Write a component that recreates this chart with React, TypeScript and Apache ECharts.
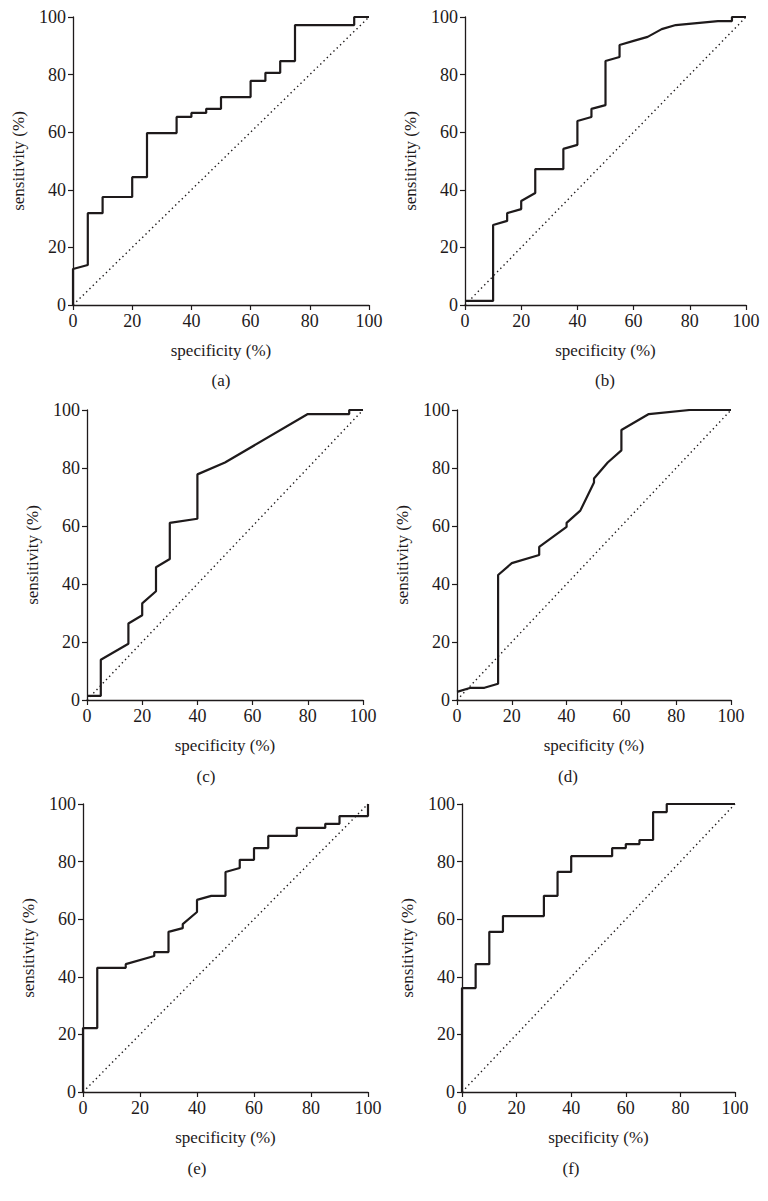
import React, { useEffect, useRef } from "react";
import * as echarts from "echarts";

// ---- data ----
const tickValues = [0, 20, 40, 60, 80, 100];
const panelLabels = ["(a)", "(b)", "(c)", "(d)", "(e)", "(f)"];
const xTitle = "specificity (%)";
const yTitle = "sensitivity (%)";

const aSpec = [0, 0, 5, 5, 10, 10, 20, 20, 25, 25, 35, 35, 40, 40, 45, 45, 50, 50, 60, 60, 65, 65, 70, 70, 75, 75, 95, 95, 100];
const aSens = [0, 12.5, 13.9, 31.9, 31.9, 37.5, 37.5, 44.4, 44.4, 59.7, 59.7, 65.3, 65.3, 66.7, 66.7, 68.1, 68.1, 72.2, 72.2, 77.8, 77.8, 80.6, 80.6, 84.7, 84.7, 97.2, 97.2, 100, 100];

const bSpec = [0, 10, 10, 15, 15, 20, 20, 25, 25, 35, 35, 40, 40, 45, 45, 50, 50, 55, 55, 60, 65, 70, 75, 90, 95, 95, 100];
const bSens = [1.4, 1.4, 27.8, 29.2, 31.9, 33.3, 36.1, 38.9, 47.2, 47.2, 54.2, 55.6, 63.9, 65.3, 68.1, 69.4, 84.7, 86.1, 90.3, 91.7, 93.1, 95.8, 97.2, 98.6, 98.6, 100, 100];

const cSpec = [0, 5, 5, 15, 15, 20, 20, 25, 25, 30, 30, 40, 40, 50, 80, 95, 95, 100];
const cSens = [1.4, 1.4, 13.9, 19.4, 26.4, 29.2, 33.3, 37.5, 45.8, 48.6, 61.1, 62.5, 77.8, 81.9, 98.6, 98.6, 100, 100];

const dSpec = [0, 5, 10, 15, 15, 20, 30, 30, 40, 40, 45, 50, 50, 55, 60, 60, 70, 85, 100];
const dSens = [2.8, 4.2, 4.2, 5.6, 43.1, 47.2, 50, 52.8, 59.7, 61.1, 65.3, 75, 76.4, 81.9, 86.1, 93.1, 98.6, 100, 100];

const eSpec = [0, 0, 5, 5, 15, 15, 25, 25, 30, 30, 35, 35, 40, 40, 45, 50, 50, 55, 55, 60, 60, 65, 65, 75, 75, 85, 85, 90, 90, 100, 100];
const eSens = [0, 22.2, 22.2, 43.1, 43.1, 44.4, 47.2, 48.6, 48.6, 55.6, 56.9, 58.3, 62.5, 66.7, 68.1, 68.1, 76.4, 77.8, 80.6, 80.6, 84.7, 84.7, 88.9, 88.9, 91.7, 91.7, 93.1, 93.1, 95.8, 95.8, 100];

const fSpec = [0, 0, 5, 5, 10, 10, 15, 15, 30, 30, 35, 35, 40, 40, 55, 55, 60, 60, 65, 65, 70, 70, 75, 75, 100];
const fSens = [0, 36.1, 36.1, 44.4, 44.4, 55.6, 55.6, 61.1, 61.1, 68.1, 68.1, 76.4, 76.4, 81.9, 81.9, 84.7, 84.7, 86.1, 86.1, 87.5, 87.5, 97.2, 97.2, 100, 100];

const diagSpec = [0, 100];
const diagSens = [0, 100];

const curves = [
  [aSpec, aSens],
  [bSpec, bSens],
  [cSpec, cSens],
  [dSpec, dSens],
  [eSpec, eSens],
  [fSpec, fSens],
];

// ---- layout ----
const grids = [
  { left: 73, top: 17, width: 296, height: 288 },
  { left: 465, top: 17, width: 281, height: 288 },
  { left: 87, top: 410, width: 276, height: 290 },
  { left: 457, top: 410, width: 274, height: 290 },
  { left: 83, top: 804, width: 285, height: 288 },
  { left: 462, top: 804, width: 273, height: 288 },
];
const labelPos = [
  [221, 380],
  [605, 380],
  [206, 776],
  [568, 776],
  [197, 1168],
  [571, 1168],
];

const INK = "#1e1a1b";
const FONT = "Liberation Serif";

const zip = (xs: number[], ys: number[]) => xs.map((x, i) => [x, ys[i]]);

export default function App() {
  const ref = useRef<HTMLDivElement>(null);
  useEffect(() => {
    if (!ref.current) return;
    const chart = echarts.init(ref.current, undefined, { renderer: "svg" });
    const xAxis: any[] = [];
    const yAxis: any[] = [];
    const series: any[] = [];
    grids.forEach((g, i) => {
      const common = {
        type: "value",
        gridIndex: i,
        min: tickValues[0],
        max: tickValues[tickValues.length - 1],
        interval: 20,
        splitLine: { show: false },
        axisLine: { show: true, lineStyle: { color: INK, width: 1.3 } },
        axisTick: { show: true, inside: false, length: 5, lineStyle: { color: INK, width: 1.2 } },
        nameLocation: "middle",
        nameTextStyle: { color: INK, fontFamily: FONT, fontSize: 17 },
      };
      xAxis.push({
        ...common,
        name: xTitle,
        nameGap: 37,
        axisLabel: { color: INK, fontFamily: FONT, fontSize: 18, margin: 7 },
      });
      yAxis.push({
        ...common,
        name: yTitle,
        nameGap: 46,
        axisLabel: { color: INK, fontFamily: FONT, fontSize: 18, margin: 7 },
      });
      series.push({
        type: "line",
        xAxisIndex: i,
        yAxisIndex: i,
        data: zip(diagSpec, diagSens),
        showSymbol: false,
        silent: true,
        lineStyle: { color: INK, width: 1.4, type: [1.4, 3.2] },
        z: 2,
      });
      series.push({
        type: "line",
        xAxisIndex: i,
        yAxisIndex: i,
        data: zip(curves[i][0], curves[i][1]),
        showSymbol: false,
        silent: true,
        lineStyle: { color: INK, width: 2.2 },
        z: 3,
      });
    });
    chart.setOption({
      animation: false,
      backgroundColor: "#ffffff",
      textStyle: { fontFamily: FONT },
      grid: grids.map((g) => ({ ...g, containLabel: false })),
      xAxis,
      yAxis,
      series,
      graphic: panelLabels.map((t, i) => ({
        type: "text",
        x: labelPos[i][0],
        y: labelPos[i][1],
        style: {
          text: t,
          fill: INK,
          fontFamily: FONT,
          fontSize: 17,
          textAlign: "center",
          textVerticalAlign: "middle",
        },
      })),
    });
    return () => chart.dispose();
  }, []);
  return (
    <div
      ref={ref}
      style={{ position: "absolute", left: 0, top: 0, width: 768, height: 1201, background: "#fff" }}
    />
  );
}
